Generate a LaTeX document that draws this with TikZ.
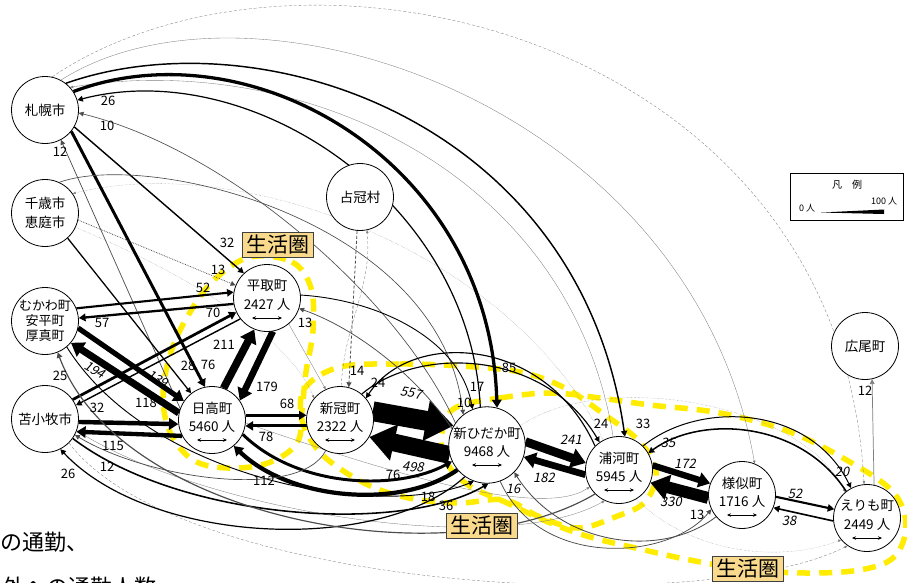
\documentclass[tikz,border=0pt]{standalone}
\usepackage{fontspec}
\setmainfont{Noto Sans CJK JP}
\newfontfamily\slfont[FakeSlant=0.2]{Noto Sans CJK JP}
\usetikzlibrary{arrows.meta}
\pgfdeclarelayer{bg}
\pgfsetlayers{bg,main}
\definecolor{yel}{RGB}{255,236,0}
\definecolor{boxfill}{RGB}{249,217,140}
\tikzset{
  town/.style={circle, draw, line width=0.8pt, fill=white, minimum size=67pt, inner sep=0pt, align=center, font=\fontsize{13.5}{18.5}\selectfont},
  flow/.style={line width=0.3pt+#1*0.035pt, -{Triangle[length=4pt 1.2, width=3.5pt 1.8]}},
  faint/.style={line width=0.35pt, draw=black!50, -{Triangle[length=3pt, width=2.5pt]}},
  num/.style={font=\fontsize{13}{13}\selectfont, inner sep=0.5pt},
  snum/.style={font=\fontsize{13}{13}\slfont, inner sep=0.5pt},
  area/.style={line width=5.5pt, draw=yel, dash pattern=on 13pt off 9pt},
  areabox/.style={draw=black!75, line width=0.8pt, fill=boxfill, font=\fontsize{21}{21}\selectfont, inner xsep=4pt, inner ysep=3pt},
  both/.style={{Stealth[length=4pt,width=3.5pt]}-{Stealth[length=4pt,width=3.5pt]}, line width=0.6pt}
}
\begin{document}
\begin{tikzpicture}[x=1pt,y=-1pt]
\useasboundingbox (0,0) rectangle (907,582);

\node[town] (sapporo) at (45,110) {札幌市};
\node[town] (chitose) at (45,213) {千歳市\\恵庭市};
\node[town, font=\fontsize{13}{15}\selectfont] (mukawa) at (45,321) {むかわ町\\安平町\\厚真町};
\node[town] (tomakomai) at (45,419) {苫小牧市};
\node[town] (shimukappu) at (360,197) {占冠村};
\node[town] (hiroo) at (865,346) {広尾町};
\node[town] (biratori) at (267,298) {平取町\\2427 人\\[-12pt]\mbox{}};
\node[town] (hidaka) at (212,420) {日高町\\5460 人\\[-12pt]\mbox{}};
\node[town] (niikappu) at (340,420) {新冠町\\2322 人\\[-12pt]\mbox{}};
\node[town] (shinhidaka) at (487,445) {新ひだか町\\9468 人\\[-12pt]\mbox{}};
\node[town] (urakawa) at (619,470) {浦河町\\5945 人\\[-12pt]\mbox{}};
\node[town] (samani) at (742,495) {様似町\\1716 人\\[-12pt]\mbox{}};
\node[town] (erimo) at (867,518) {えりも町\\2449 人\\[-12pt]\mbox{}};
\foreach \t in {biratori,hidaka,niikappu,shinhidaka,urakawa,samani,erimo}
  \draw[both] ([xshift=-15pt,yshift=-20pt]\t.center) -- ([xshift=15pt,yshift=-20pt]\t.center);

\begin{pgfonlayer}{bg}
\draw[area] plot[smooth cycle, tension=0.6] coordinates {(250,257) (292,262) (311,288) (313,330) (306,372) (302,410) (297,443) (268,463) (228,468) (193,460) (170,432) (163,395) (171,352) (189,314) (214,280)};
\draw[area] plot[smooth cycle, tension=0.6] coordinates {(340,367) (400,364) (460,366) (520,372) (565,388) (605,415) (640,442) (656,472) (645,502) (615,517) (578,528) (540,517) (505,500) (460,503) (420,500) (380,490) (345,472) (318,450) (302,420) (305,388)};
\draw[area] plot[smooth cycle, tension=0.6] coordinates {(455,408) (500,398) (550,393) (600,398) (650,405) (720,413) (790,432) (850,462) (893,492) (906,525) (895,556) (865,569) (815,573) (750,570) (690,560) (640,549) (590,537) (548,522) (505,502) (468,485) (445,460) (442,432)};

\draw[faint] (sapporo.62) .. controls (250,-40) and (690,100) .. (samani.68);
\draw[faint, densely dashed] (sapporo.78) .. controls (300,-90) and (840,30) .. (erimo.95);
\draw[faint] (urakawa.100) .. controls (570,170) and (300,50) .. (sapporo.42);
\draw[faint, densely dotted] (urakawa.118) .. controls (520,260) and (250,150) .. (chitose.35);
\draw[faint] (tomakomai.-20) .. controls (200,510) and (500,560) .. (urakawa.-115);
\draw[faint, densely dashed] (tomakomai.-45) .. controls (180,590) and (700,620) .. (erimo.-125);
\draw[faint, densely dotted] (urakawa.-60) .. controls (700,560) and (790,560) .. (erimo.-140);
\draw[faint, densely dotted] (shinhidaka.30) .. controls (600,370) and (800,400) .. (erimo.130);
\draw[faint] (hidaka.-5) .. controls (380,470) and (540,520) .. (urakawa.-150);
\draw[faint] (biratori.-50) -- (niikappu.115);
\draw[faint, densely dotted] (chitose.-25) .. controls (200,280) and (290,340) .. (niikappu.140);

\draw[flow=76] (sapporo.-39) -- (hidaka.102);
\draw[flow=12, draw=black!70] (hidaka.160) -- (sapporo.-62);
\draw[flow=32] (sapporo.-30) -- (biratori.133);
\draw[flow=85] (sapporo.33) .. controls (250,25) and (490,160) .. (shinhidaka.75);
\draw[flow=26] (shinhidaka.100) .. controls (470,200) and (250,55) .. (sapporo.17);
\draw[flow=10, draw=black!70] (shinhidaka.145) .. controls (400,300) and (230,150) .. (sapporo.-5);
\draw[flow=33] (sapporo.52) .. controls (260,15) and (580,120) .. (urakawa.80);

\draw[flow=13, draw=black!70, densely dotted] (chitose.-12) -- (biratori.158);
\draw[flow=28] (chitose.-48) -- (hidaka.128);
\draw[flow=10, draw=black!70] (chitose.65) .. controls (150,150) and (440,220) .. (shinhidaka.128);

\draw[flow=52] (mukawa.22) -- (biratori.170);
\draw[flow=57] (biratori.190) -- (mukawa.5);
\draw[flow=70] (tomakomai.35) -- (biratori.205);
\draw[flow=32] (biratori.218) -- (tomakomai.24);
\draw[flow=139] (mukawa.-12) -- (hidaka.146);
\draw[flow=194] (hidaka.168) -- (mukawa.-40);
\draw[flow=118] (tomakomai.-5) -- (hidaka.187);
\draw[flow=115] (hidaka.208) -- (tomakomai.-22);

\draw[flow=211] (hidaka.70) -- (biratori.248);
\draw[flow=179] (biratori.-80) -- (hidaka.35);
\draw[flow=68] (hidaka.8) -- (niikappu.172);
\draw[flow=78] (niikappu.190) -- (hidaka.-10);

\draw[flow=557] (niikappu.15) -- (shinhidaka.150);
\draw[flow=498] (shinhidaka.195) -- (niikappu.-30);
\draw[flow=76] (hidaka.-25) .. controls (300,490) and (400,490) .. (shinhidaka.205);
\draw[flow=112] (shinhidaka.220) .. controls (400,510) and (290,500) .. (hidaka.-50);

\draw[flow=36] (tomakomai.-35) .. controls (180,520) and (400,535) .. (shinhidaka.-88);
\draw[flow=18] (mukawa.-50) .. controls (150,480) and (380,520) .. (shinhidaka.-110);
\draw[flow=26] (shinhidaka.-125) .. controls (380,555) and (150,545) .. (tomakomai.-63);
\draw[flow=25, draw=black!70] (urakawa.-135) .. controls (450,580) and (120,520) .. (mukawa.-68);
\draw[flow=12, draw=black!70] (niikappu.-115) .. controls (300,500) and (150,480) .. (tomakomai.-28);

\draw[flow=14, densely dashed, draw=black!70] (shimukappu.-95) -- (niikappu.75);
\draw[faint, densely dashed] (niikappu.88) .. controls (345,320) and (372,290) .. (shimukappu.-78);
\draw[flow=24] (niikappu.50) .. controls (420,345) and (545,350) .. (urakawa.125);
\draw[flow=24] (urakawa.135) .. controls (545,335) and (410,330) .. (niikappu.40);
\draw[flow=17] (biratori.5) .. controls (380,300) and (460,340) .. (shinhidaka.112);
\draw[flow=13, draw=black!70] (shinhidaka.155) .. controls (420,380) and (360,330) .. (biratori.-18);

\draw[flow=241] (shinhidaka.5) -- (urakawa.168);
\draw[flow=182] (urakawa.188) -- (shinhidaka.-18);
\draw[flow=172] (urakawa.8) -- (samani.160);
\draw[flow=330] (samani.185) -- (urakawa.-22);
\draw[flow=35] (erimo.128) .. controls (800,420) and (700,415) .. (urakawa.30);
\draw[flow=20] (urakawa.45) .. controls (700,400) and (810,405) .. (erimo.118);
\draw[flow=52] (samani.-3) -- (erimo.165);
\draw[flow=38] (erimo.185) -- (samani.-22);
\draw[flow=12, draw=black!50] (erimo.78) -- (hiroo.-78);
\draw[flow=13, draw=black!70] (shinhidaka.-70) .. controls (540,570) and (670,560) .. (samani.-155);
\draw[flow=16, draw=black!70] (samani.-140) .. controls (660,560) and (560,545) .. (shinhidaka.-45);
\end{pgfonlayer}

\node[num] (ls26) at (108,101) {26};
\node[num] (ls10) at (107,126) {10};
\node[num] (ls12) at (60,152) {12};
\node[num] (lb32) at (227,243) {32};
\node[num] (lb13) at (218,270) {13};
\node[num] (lb52) at (203,288) {52};
\node[num] (lm57) at (102,323) {57};
\node[num] (lb70) at (213,313) {70};
\node[num] (lb211) at (224,345) {211};
\node[num] (lh76) at (208,365) {76};
\node[num] (lh28) at (188,366) {28};
\node[snum, rotate=-30] (lh139) at (158,379) {139};
\node[snum, rotate=-30] (lm194) at (95,370) {194};
\node[num] (lm25) at (60,376) {25};
\node[num] (lt32) at (97,408) {32};
\node[num] (lh118) at (146,403) {118};
\node[num] (lt115) at (113,446) {115};
\node[num] (lt12) at (107,467) {12};
\node[num] (lt26) at (68,474) {26};
\node[num] (lh179) at (267,387) {179};
\node[num] (lb13b) at (305,323) {13};
\node[num] (ln68) at (287,404) {68};
\node[num] (lh78) at (266,437) {78};
\node[num] (lh112) at (264,481) {112};
\node[num] (ln14) at (357,371) {14};
\node[num] (ln24) at (378,383) {24};
\node[snum, rotate=-10] (lsh557) at (411,393) {557};
\node[snum, rotate=-5] (ln498) at (413,467) {498};
\node[num] (lsh76) at (393,475) {76};
\node[num] (lsh18) at (428,497) {18};
\node[num] (lsh36) at (446,506) {36};
\node[num] (lsh10) at (464,403) {10};
\node[num] (lsh17) at (477,387) {17};
\node[num] (lsh85) at (509,368) {85};
\node[num] (lu24) at (601,424) {24};
\node[num] (lu33) at (643,424) {33};
\node[snum] (lu241) at (571,440) {241};
\node[snum] (lsh182) at (544,478) {182};
\node[snum] (lsh16) at (513,489) {16};
\node[snum] (lu35) at (668,443) {35};
\node[snum] (ls172) at (685,464) {172};
\node[snum] (lu330) at (671,502) {330};
\node[num] (ls13) at (697,515) {13};
\node[snum] (le20) at (842,472) {20};
\node[snum] (le52) at (795,494) {52};
\node[snum] (ls38) at (789,521) {38};
\node[num] (lh12) at (865,391) {12};

\node[areabox] (area1) at (278,245) {生活圏};
\node[areabox] (area2) at (482,526) {生活圏};
\node[areabox] (area3) at (748,569) {生活圏};

\draw[line width=0.6pt] (790,173) rectangle (903,220);
\node[font=\fontsize{10}{10}\selectfont] (legtitle) at (847,185) {凡\quad 例};
\node[font=\fontsize{9}{9}\selectfont] (leg0) at (807,208) {0 人};
\node[font=\fontsize{9}{9}\selectfont] (leg100) at (884,201) {100 人};
\fill (821,212.5) -- (884,209.5) -- (884,214) -- cycle;

\node[anchor=west, inner sep=0pt, font=\fontsize{22}{22}\selectfont] (note1) at (0,542) {の通勤、};
\node[anchor=north west, inner sep=0pt, font=\fontsize{22}{22}\selectfont] (note2) at (2,577) {外への通勤人数};
\end{tikzpicture}
\end{document}
